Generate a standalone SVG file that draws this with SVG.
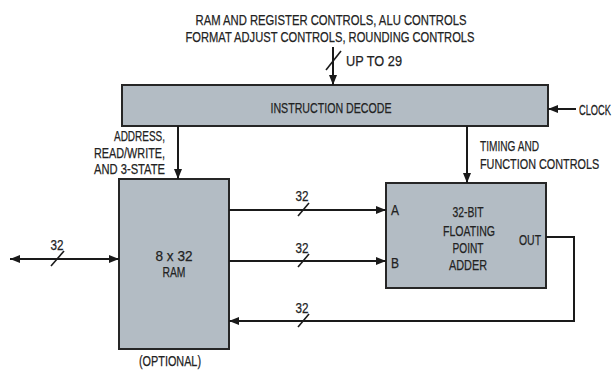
<svg xmlns="http://www.w3.org/2000/svg" width="615" height="370" viewBox="0 0 615 370">
<defs>
<marker id="ah" viewBox="0 0 10 8" refX="10" refY="4" markerWidth="10" markerHeight="8" markerUnits="userSpaceOnUse" orient="auto-start-reverse">
<path d="M0,0 L10,4 L0,8 Z" fill="#1a1a1a"/>
</marker>
</defs>
<style>
text{font-family:"Liberation Sans",Arial,sans-serif;font-size:15.5px;fill:#222;stroke:#222;stroke-width:0.25;}
.box{fill:#b3bcc4;stroke:#262626;stroke-width:2;}
.ln{fill:none;stroke:#1a1a1a;stroke-width:2;}
.sl{stroke:#1a1a1a;stroke-width:1.6;}
.m{text-anchor:middle;}
.e{text-anchor:end;}
</style>
<rect width="615" height="370" fill="#ffffff"/>

<g id="top-label">
<text class="m" x="331" y="25" textLength="271" lengthAdjust="spacingAndGlyphs">RAM AND REGISTER CONTROLS, ALU CONTROLS</text>
<text class="m" x="330" y="42" textLength="289" lengthAdjust="spacingAndGlyphs">FORMAT ADJUST CONTROLS, ROUNDING CONTROLS</text>
</g>

<g id="decode">
<rect class="box" x="122" y="85" width="426" height="41"/>
<text class="m" x="331" y="113" textLength="121" lengthAdjust="spacingAndGlyphs">INSTRUCTION DECODE</text>
</g>

<g id="ram">
<rect class="box" x="119" y="179" width="110" height="170"/>
<text class="m" x="174" y="261" textLength="37" lengthAdjust="spacingAndGlyphs">8 x 32</text>
<text class="m" x="174" y="277" textLength="23" lengthAdjust="spacingAndGlyphs">RAM</text>
<text class="m" x="170" y="366" textLength="62" lengthAdjust="spacingAndGlyphs">(OPTIONAL)</text>
</g>

<g id="adder">
<rect class="box" x="386" y="183" width="160" height="105"/>
<text class="m" x="468" y="217" textLength="31" lengthAdjust="spacingAndGlyphs">32-BIT</text>
<text class="m" x="469" y="236" textLength="52" lengthAdjust="spacingAndGlyphs">FLOATING</text>
<text class="m" x="468" y="253" textLength="31" lengthAdjust="spacingAndGlyphs">POINT</text>
<text class="m" x="468" y="270" textLength="38" lengthAdjust="spacingAndGlyphs">ADDER</text>
<text x="391" y="215" textLength="8" lengthAdjust="spacingAndGlyphs">A</text>
<text x="391" y="268" textLength="8" lengthAdjust="spacingAndGlyphs">B</text>
<text x="519" y="245" textLength="22" lengthAdjust="spacingAndGlyphs">OUT</text>
</g>

<g id="connectors">
<line class="ln" x1="333" y1="47" x2="333" y2="85" marker-end="url(#ah)"/>
<line class="sl" x1="326" y1="70" x2="341" y2="51"/>
<text x="346" y="66" textLength="56" lengthAdjust="spacingAndGlyphs">UP TO 29</text>
<line class="ln" x1="576" y1="109" x2="548" y2="109" marker-end="url(#ah)"/>
<text transform="translate(579,115) scale(0.6,1)">CLOCK</text>
<line class="ln" x1="178" y1="126" x2="178" y2="179" marker-end="url(#ah)"/>
<text class="e" x="165" y="141" textLength="51" lengthAdjust="spacingAndGlyphs">ADDRESS,</text>
<text class="e" x="165" y="158" textLength="71" lengthAdjust="spacingAndGlyphs">READ/WRITE,</text>
<text class="e" x="165" y="174" textLength="71" lengthAdjust="spacingAndGlyphs">AND 3-STATE</text>
<line class="ln" x1="467" y1="126" x2="467" y2="183" marker-end="url(#ah)"/>
<text x="480" y="151" textLength="59" lengthAdjust="spacingAndGlyphs">TIMING AND</text>
<text transform="translate(480,169) scale(0.7,1)">FUNCTION CONTROLS</text>
<line class="ln" x1="229" y1="210" x2="386" y2="210" marker-end="url(#ah)"/>
<line class="sl" x1="298" y1="216" x2="309" y2="203"/>
<text class="m" x="302" y="201" textLength="13" lengthAdjust="spacingAndGlyphs">32</text>
<line class="ln" x1="229" y1="261" x2="386" y2="261" marker-end="url(#ah)"/>
<line class="sl" x1="298" y1="267" x2="309" y2="254"/>
<text class="m" x="302" y="253" textLength="13" lengthAdjust="spacingAndGlyphs">32</text>
<path class="ln" d="M546,237 H574 V321 H229" marker-end="url(#ah)"/>
<line class="sl" x1="298" y1="327" x2="309" y2="314"/>
<text class="m" x="302" y="313" textLength="13" lengthAdjust="spacingAndGlyphs">32</text>
<line class="ln" x1="10" y1="259" x2="119" y2="259" marker-start="url(#ah)" marker-end="url(#ah)"/>
<line class="sl" x1="51" y1="266" x2="64" y2="251"/>
<text class="m" x="57" y="250" textLength="13" lengthAdjust="spacingAndGlyphs">32</text>
</g>
</svg>
